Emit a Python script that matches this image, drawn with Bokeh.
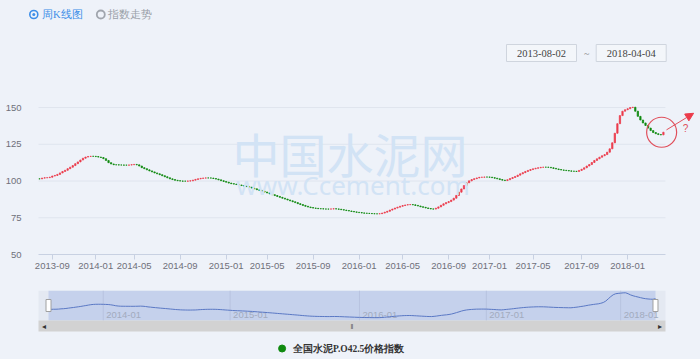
from bokeh.plotting import figure
from bokeh.layouts import column
from bokeh.models import Range1d, FixedTicker, Label, Arrow, NormalHead, ColumnDataSource
from bokeh.embed import file_html
from bokeh.resources import INLINE

# ---------------- data ----------------
closes = [
    101.5, 102.0, 102.2, 102.3, 102.6, 103.4, 103.8, 104.5, 105.5, 106.5,
    107.3, 108.4, 109.4, 110.5, 111.8, 113.0, 114.3, 115.5, 116.3, 116.7,
    116.8, 116.8, 116.6, 116.3, 116.0, 115.2, 114.0, 112.5, 111.6, 111.1,
    111.0, 110.9, 110.9, 110.8, 110.8, 110.9, 111.1, 111.3, 111.0, 110.2,
    109.1, 108.4, 107.6, 106.9, 106.2, 105.5, 104.9, 104.3, 103.6, 102.9,
    102.2, 101.5, 101.0, 100.5, 100.2, 100.0, 99.9, 99.9, 100.0, 100.1,
    100.6, 101.1, 101.5, 101.8, 102.0, 102.1, 102.1, 102.0, 101.7, 101.3,
    100.8, 100.2, 99.7, 99.2, 98.6, 98.2, 97.9, 97.6, 97.3, 96.9,
    96.5, 96.2, 95.8, 95.2, 94.7, 94.1, 93.6, 93.1, 92.5, 91.9,
    91.3, 90.7, 90.1, 89.5, 88.9, 88.3, 87.7, 87.1, 86.5, 85.9,
    85.3, 84.6, 84.0, 83.4, 82.8, 82.3, 81.9, 81.6, 81.4, 81.2,
    81.1, 81.0, 80.9, 80.9, 81.0, 81.1, 81.0, 80.8, 80.5, 80.2,
    79.9, 79.6, 79.3, 79.0, 78.7, 78.5, 78.3, 78.1, 78.0, 77.9,
    77.8, 77.7, 77.7, 77.8, 78.2, 78.8, 79.4, 80.2, 80.9, 81.6,
    82.2, 82.8, 83.3, 83.7, 83.9, 84.0, 83.8, 83.4, 83.0, 82.5,
    82.1, 81.7, 81.3, 81.0, 80.9, 81.5, 82.4, 83.5, 84.5, 85.3,
    86.0, 87.0, 88.3, 90.2, 92.4, 94.6, 96.9, 98.8, 100.1, 101.0,
    101.6, 102.1, 102.5, 102.6, 102.7, 102.7, 102.6, 102.3, 101.9, 101.5,
    101.0, 100.6, 100.3, 100.9, 101.7, 102.4, 103.1, 104.0, 104.9, 105.7,
    106.5, 107.2, 107.8, 108.3, 108.7, 109.0, 109.3, 109.4, 109.4, 109.3,
    109.0, 108.6, 108.2, 107.8, 107.5, 107.3, 107.1, 106.9, 106.7, 106.6,
    106.5, 107.2, 108.0, 109.0, 110.2, 111.2, 112.6, 114.0, 115.1, 116.2,
    117.2, 118.0, 119.6, 121.9, 126.0, 132.5, 139.0, 144.5, 147.5, 148.5,
    149.2, 150.0, 150.2, 147.5, 144.0, 141.5, 139.5, 137.8, 136.0, 134.3,
    133.0, 132.2, 131.6, 131.4, 133.2,
]
tick_idx = [5, 22, 37, 55, 73, 89, 107, 125, 142, 160, 176, 193, 212, 230]
tick_labels = ["2013-09", "2014-01", "2014-05", "2014-09", "2015-01", "2015-05", "2015-09",
               "2016-01", "2016-05", "2016-09", "2017-01", "2017-05", "2017-09", "2018-01"]
nav_tick_idx = [22, 73, 125, 176, 230]
nav_tick_labels = ["2014-01", "2015-01", "2016-01", "2017-01", "2018-01"]
y_ticks = [50, 75, 100, 125, 150]
series_name = "全国水泥P.O42.5价格指数"
start_date = "2013-08-02"
end_date = "2018-04-04"
tab_labels = ["周K线图", "指数走势"]

# ---------------- styles ----------------
BG = "#eef2f9"
UP = "#ec3b4b"
DOWN = "#0f8a0f"
RED_ANN = "#e0505c"
LBL = "#6e7079"
FONT = "Liberation Sans"
CJK = "Noto Sans CJK SC"
LB = 28          # common left border so that the stacked frames line up
FW = 700 - LB    # common frame width

n = len(closes)
idx = list(range(n))
opens = [closes[0]] + closes[:-1]
colors = [UP if c > o else DOWN for o, c in zip(opens, closes)]
src = ColumnDataSource(dict(x=idx, top=[max(o, c) for o, c in zip(opens, closes)],
                            bottom=[min(o, c) for o, c in zip(opens, closes)], color=colors))


def base_fig(**kw):
    f = figure(frame_width=FW, output_backend="svg", toolbar_location=None,
               min_border_left=LB, min_border_right=0,
               background_fill_color=BG, border_fill_color=BG, outline_line_color=None, **kw)
    f.xgrid.visible = False
    f.ygrid.visible = False
    return f


# ---------------- header (tabs + date range), page-pixel coordinates ----------------
hd = base_fig(frame_height=70, x_range=Range1d(LB, 700), y_range=Range1d(70, 0),
              x_axis_type=None, y_axis_type=None, min_border_top=0, min_border_bottom=0)
hd.scatter(x=[33.3], y=[14], size=8, fill_color=None, line_color="#3d8ee8", line_width=1.6)
hd.scatter(x=[33.3], y=[14], size=3, fill_color="#3d8ee8", line_color=None)
hd.scatter(x=[100.3], y=[14], size=8, fill_color=None, line_color="#a0a5ad", line_width=1.8)
hd.text(x=[41.5, 107.3], y=[14, 14], text=tab_labels, text_font=CJK, text_font_size="10.5px",
        text_color=["#3d8ee8", "#9aa0a8"], text_align="left", text_baseline="middle")
hd.quad(left=[506, 595.7], right=[576, 665.7], top=[44, 44], bottom=[61, 61],
        fill_color="#f3f6fa", line_color="#cfd5de", line_width=1)
hd.text(x=[541, 630.7], y=[52.5, 52.5], text=[start_date, end_date], text_font=FONT,
        text_font_size="10.5px", text_color="#444444", text_align="center", text_baseline="middle")
hd.text(x=[586.3], y=[52.5], text=["~"], text_font=FONT, text_font_size="10px",
        text_color="#888888", text_align="center", text_baseline="middle")

# ---------------- main chart ----------------
X0 = -0.39
X_END_AXIS = 244.8
p = base_fig(frame_height=184, x_range=Range1d(-4.302, 258.5), y_range=Range1d(50, 175.2),
             min_border_top=0, min_border_bottom=28)

gl = [t for t in y_ticks if t > y_ticks[0]]
p.segment(x0=[X0] * len(gl), x1=[X_END_AXIS] * len(gl), y0=gl, y1=gl,
          line_color="#dfe5ee", line_width=1)

xa = p.xaxis[0]
xa.ticker = FixedTicker(ticks=tick_idx)
xa.major_label_overrides = {t: l for t, l in zip(tick_idx, tick_labels)}
xa.bounds = (X0, X_END_AXIS)
xa.axis_line_color = "#c8d1e2"
xa.major_tick_line_color = "#c8d1e2"
xa.major_tick_out = 5
xa.major_tick_in = 0
xa.minor_tick_line_color = None
xa.major_label_standoff = 3
xa.major_label_text_font = FONT
xa.major_label_text_font_size = "9.5px"
xa.major_label_text_color = LBL

ya = p.yaxis[0]
ya.ticker = FixedTicker(ticks=y_ticks)
ya.axis_line_color = None
ya.major_tick_line_color = None
ya.minor_tick_line_color = None
ya.major_label_standoff = 1
ya.major_label_text_font = FONT
ya.major_label_text_font_size = "9.5px"
ya.major_label_text_color = LBL
ya.major_label_text_baseline = "alphabetic"

# watermark (screen offsets from the frame's bottom-left corner)
p.add_layout(Label(x=321.5, y=102, x_units="screen", y_units="screen", text="中国水泥网",
                   text_font=CJK, text_font_size="47px", text_color="#d2e3f5",
                   text_align="center", text_baseline="middle"))
p.add_layout(Label(x=324.5, y=70, x_units="screen", y_units="screen", text="www.Ccement.com",
                   text_font="Noto Sans", text_font_size="26px", text_color="#d2e3f5",
                   text_align="center", text_baseline="middle"))

# candles
p.vbar(x="x", top="top", bottom="bottom", width=0.5, fill_color="color", line_color="color",
       line_width=0.8, source=src)

# annotation: circle, arrow and question mark
p.scatter(x=[243.3], y=[133.2], size=30, fill_color=None, line_color=RED_ANN, line_width=1.2)
p.add_layout(Arrow(x_start=245.2, y_start=134.8, x_end=255.8, y_end=146.1, line_color=RED_ANN,
                   line_width=1, end=NormalHead(size=8, fill_color=UP, line_color=UP)))
p.add_layout(Label(x=252.6, y=135.7, text="?", text_color=RED_ANN, text_font=FONT,
                   text_font_size="10px", text_align="center", text_baseline="middle"))

# ---------------- navigator (y in pixels below its top, page y = 290 + y) ----------------
nav = base_fig(frame_height=69, x_range=Range1d(-8.04, 262.09), y_range=Range1d(69, 0),
               x_axis_type=None, y_axis_type=None, min_border_top=8, min_border_bottom=0)
nav.extra_y_ranges = {"line": Range1d(-44.3, 156.9)}
NL, NR = -4.02, 248.02
nav.quad(left=[NL], right=[NR], top=[0], bottom=[30], fill_color="#e4e9f2", line_color=None)
nav.quad(left=[0], right=[n - 1], top=[0], bottom=[30], fill_color="#c5d1ec", line_color=None)
nav.segment(x0=nav_tick_idx, x1=nav_tick_idx, y0=[0] * 5, y1=[30] * 5, line_color="#b7c3df", line_width=1)
nav.text(x=nav_tick_idx, y=[24] * 5, text=nav_tick_labels, x_offset=3, text_align="left",
         text_baseline="middle", text_font_size="9.5px", text_color="#a2abbe")
nav.line(x=idx, y=closes, y_range_name="line", line_color="#5a78c4", line_width=1)
nav.rect(x=[0, n - 1], y=[15, 15], width=5, height=12, width_units="screen", height_units="screen",
         fill_color="white", line_color="#a0a0a0", line_width=1)
nav.quad(left=[NL], right=[NR], top=[30], bottom=[41], fill_color="#d2d2d2", line_color=None)
nav.text(x=[-2.0, 246.0], y=[36, 36], text=["◂", "▸"], text_align="center", text_baseline="middle",
         text_font_size="8px", text_color="#333333")
nav.text(x=[122], y=[36], text=["‖"], text_align="center", text_baseline="middle",
         text_font_size="7px", text_color="#555555")

# legend
nav.scatter(x=[93.9], y=[58], size=7, fill_color=DOWN, line_color=DOWN)
nav.text(x=[98.3], y=[58], text=[series_name], text_font=CJK, text_font_size="9.5px",
         text_font_style="bold", text_color="#333333", text_align="left", text_baseline="middle")

layout = column(hd, p, nav, spacing=0)
html = file_html(layout, INLINE)
html = html.replace("</head>", "<style>html, body { background-color: #eef2f9; }</style></head>", 1)
open("out.html", "w").write(html)
